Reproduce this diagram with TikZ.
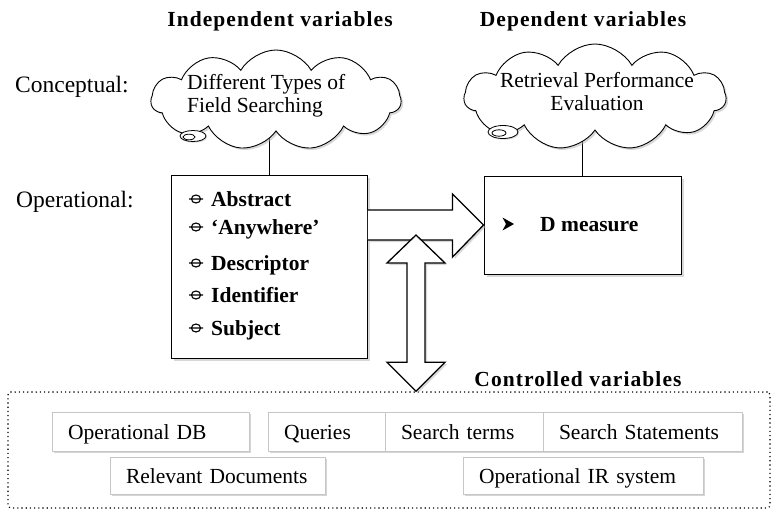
\documentclass[tikz,border=0pt]{standalone}
\usepackage{fontspec}
\setmainfont{Liberation Serif}
\usetikzlibrary{shapes.symbols,shadows,calc,backgrounds}
\begin{document}
\begin{tikzpicture}[x=1pt,y=-1pt,
  txt/.style={font=\fontsize{21.5}{23}\selectfont, inner sep=0pt},
  lbltxt/.style={font=\fontsize{23.5}{25}\selectfont, inner sep=0pt},
  btxt/.style={font=\fontsize{21.5}{23}\selectfont\bfseries, inner sep=0pt},
  headtxt/.style={font=\fontsize{21.5}{23}\selectfont\bfseries\addfontfeature{LetterSpace=5}, inner sep=0pt},
  cloudshape/.style={cloud, cloud puffs=11, cloud puff arc=120, cloud ignores aspect, draw, line width=0.9pt, fill=white, inner sep=0pt,
    drop shadow={shadow xshift=2pt, shadow yshift=-2pt, fill=gray!60}},
  varbox/.style={draw, line width=0.9pt, fill=white, inner sep=0pt,
    drop shadow={shadow xshift=2.5pt, shadow yshift=-2.5pt, fill=gray!60}},
  ctlbox/.style={draw=gray!45, line width=0.6pt, fill=white, inner xsep=16pt, inner ysep=0pt, align=left,
    text height=18pt, text depth=2pt, font=\fontsize{21.5}{23}\selectfont,
    drop shadow={shadow xshift=1.5pt, shadow yshift=-1.5pt, fill=gray!65}},
  dotbox/.style={draw, line width=1.6pt, dash pattern=on 0pt off 4.2pt, line cap=round, rounded corners=3pt, inner sep=0pt},
  bigarrow/.style={draw, line width=1.3pt, line join=miter, fill=white,
    drop shadow={shadow xshift=2pt, shadow yshift=-2pt, fill=gray!60}},
  link/.style={draw, line width=0.8pt},
  tail/.style={draw, line width=0.8pt, fill=white, drop shadow={shadow xshift=1.2pt, shadow yshift=-1.2pt, fill=gray!60}},
  fbul/.pic={\draw[line width=1.1pt] (-7,0) -- (7,0) (0,0) ellipse [x radius=4.6, y radius=4];},
  dart/.pic={\fill[black] (-5.5,-6.5) -- (6,0) -- (-5.5,6.5) -- (-2,0) -- cycle;}
]
\useasboundingbox (0,0) rectangle (774,515);

% headings and row labels
\node[headtxt, anchor=base] (hind) at (280,26) {Independent variables};
\node[headtxt, anchor=base] (hdep) at (583,26) {Dependent variables};
\node[lbltxt, anchor=base west] (lcon) at (15,92) {Conceptual:};
\node[lbltxt, anchor=base west] (lop) at (16,207) {Operational:};

% clouds
\node[cloudshape, minimum width=250pt, minimum height=100pt] (c1) at (276,100) {};
\draw[tail] (193,136) ellipse [x radius=13, y radius=5.5];
\draw[line width=0.8pt] (189,137) ellipse [x radius=6, y radius=2.8];
\node[txt, align=left, anchor=base west] (t1) at (187,112) {Different Types of\\Field Searching};

\node[cloudshape, minimum width=262pt, minimum height=106pt] (c2) at (595,97) {};
\draw[tail] (503,132) ellipse [x radius=15, y radius=6.5];
\draw[line width=0.8pt] (499,133) ellipse [x radius=7, y radius=3.2];
\node[txt, align=center, anchor=base] (t2) at (597,110) {Retrieval Performance\\Evaluation};

% boxes
\node[varbox, minimum width=196pt, minimum height=183pt] (b1) at (269,266.5) {};
\foreach \yy/\itm [count=\i] in {206/Abstract, 234/‘Anywhere’, 270/Descriptor, 302/Identifier, 335/Subject}{
  \pic at (196,\yy-7) {fbul};
  \node[btxt, anchor=base west] (it\i) at (211,\yy) {\itm};
}
\node[varbox, minimum width=197pt, minimum height=98pt] (b2) at (582.5,225) {};
\pic at (508,224) {dart};
\node[btxt, anchor=base west] (dm) at (540,231) {D measure};

% links cloud -> box
\begin{scope}[on background layer]
\draw[link] (b1.north) -- (b1.north |- c1.center);
\draw[link] (b2.north) -- (b2.north |- c2.center);
\end{scope}

% controlled variables
\node[headtxt, anchor=base] (hctl) at (578,386) {Controlled variables};
\node[dotbox, minimum width=762pt, minimum height=116pt] (ctrl) at (389,450) {};
\node[ctlbox, text width=165pt, minimum height=39pt] (odb) at (150.5,431.5) {Operational DB};
\node[ctlbox, text width=85pt, minimum height=39pt] (qry) at (326.5,431.5) {Queries};
\node[ctlbox, text width=126pt, minimum height=39pt] (sterm) at (464,431.5) {Search terms};
\node[ctlbox, text width=167pt, minimum height=39pt] (sstat) at (642.5,431.5) {Search Statements};
\node[ctlbox, text width=183pt, minimum height=37pt] (rdoc) at (217.5,475.5) {Relevant Documents};
\node[ctlbox, text width=208pt, minimum height=37pt] (oir) at (583,475.5) {Operational IR system};

% horizontal big arrow
\coordinate (hs) at ($(b1.east |- b2.west)+(0.5,0)$);
\coordinate (ht) at (b2.west);
\fill[white, drop shadow={shadow xshift=2pt, shadow yshift=-2pt, fill=gray!60}]
  ($(hs)+(0,-15)$) -- ($(ht)+(-31,-15)$) -- ($(ht)+(-31,-31)$) -- (ht)
  -- ($(ht)+(-31,32)$) -- ($(ht)+(-31,15)$) -- ($(hs)+(0,15)$) -- cycle;
\draw[line width=1.3pt, line join=miter]
  ($(hs)+(0,-15)$) -- ($(ht)+(-31,-15)$) -- ($(ht)+(-31,-31)$) -- (ht)
  -- ($(ht)+(-31,32)$) -- ($(ht)+(-31,15)$) -- ($(hs)+(0,15)$);

% vertical double arrow
\coordinate (vt) at (416,235);
\coordinate (vb) at (vt |- ctrl.north);
\filldraw[bigarrow] (vt) -- ++(29,28) -- ++(-20,0) -- ($(vb)+(9,-29)$) -- ++(20,0) -- (vb)
  -- ++(-29,-29) -- ++(20,0) -- ($(vt)+(-9,28)$) -- ++(-20,0) -- cycle;
\end{tikzpicture}
\end{document}
